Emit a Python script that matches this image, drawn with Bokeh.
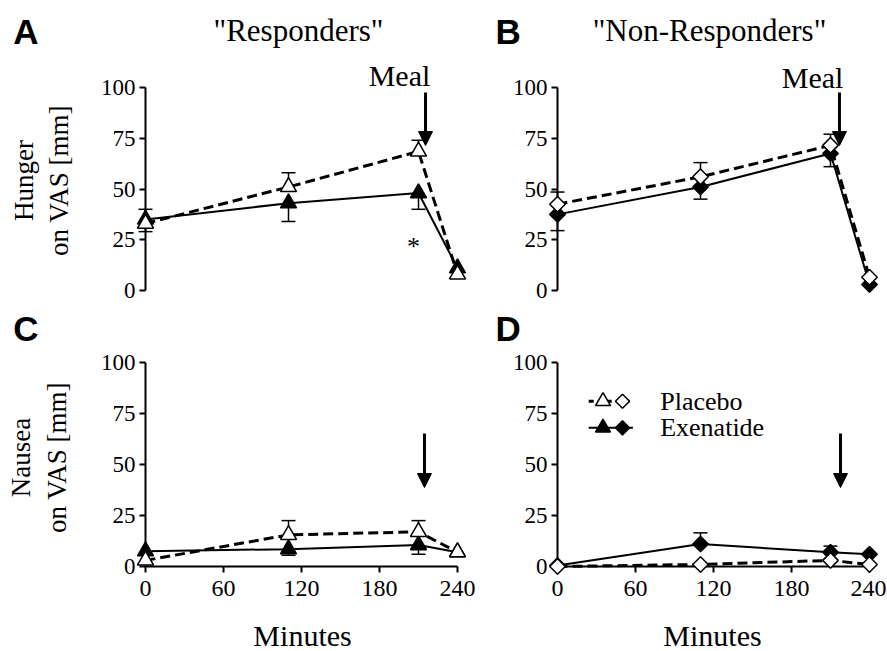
import math
from bokeh.plotting import figure
from bokeh.layouts import column, row
from bokeh.models import Arrow, NormalHead, FixedTicker, Range1d
from bokeh.core.properties import value
from bokeh.embed import file_html
from bokeh.resources import INLINE

# ---------------- data ----------------
minutes = [0, 110, 210, 240]
y_ticks = [0, 25, 50, 75, 100]
x_ticks = [0, 60, 120, 180, 240]

resp_hunger_placebo = [33, 51, 68.5, 8]
resp_hunger_placebo_sem = [7, 7, 5.5, 0]
resp_hunger_exenatide = [35, 43, 48, 11]
resp_hunger_exenatide_sem = [6, 9, 8, 0]

nonresp_hunger_placebo = [42.5, 56, 71.5, 6.5]
nonresp_hunger_placebo_sem = [6, 7, 5.5, 0]
nonresp_hunger_exenatide = [37.5, 51, 67.5, 3]
nonresp_hunger_exenatide_sem = [8, 6, 6.5, 0]

resp_nausea_placebo = [3, 15.5, 17, 7]
resp_nausea_placebo_sem = [0, 7, 5.5, 0]
resp_nausea_exenatide = [7.5, 8.5, 10.5, 7]
resp_nausea_exenatide_sem = [0, 3, 4.5, 0]

nonresp_nausea_placebo = [0, 1, 3, 1]
nonresp_nausea_placebo_sem = [0, 0, 0, 0]
nonresp_nausea_exenatide = [0.5, 11, 7, 6]
nonresp_nausea_exenatide_sem = [0, 5.5, 3, 0]

legend_labels = ["Placebo", "Exenatide"]

# ---------------- style ----------------
SERIF = "Liberation Serif"
SANS = "Liberation Sans"
BLACK = "black"
OV = "overlay"   # drawn without clipping to the frame


def make_fig(width, height, bl, br, bt, bb, has_x):
    p = figure(width=width, height=height,
               x_range=Range1d(0, 240), y_range=Range1d(0, 100),
               output_backend="svg", toolbar_location=None,
               x_axis_location="below" if has_x else None,
               min_border_left=bl, min_border_right=br,
               min_border_top=bt, min_border_bottom=bb,
               outline_line_color=None,
               background_fill_color="white", border_fill_color="white")
    p.grid.visible = False
    axes = [p.yaxis[0]] + ([p.xaxis[0]] if has_x else [])
    for ax in axes:
        ax.minor_tick_line_color = None
        ax.major_tick_in = 0
        ax.major_tick_out = 6
        ax.major_tick_line_width = 2
        ax.major_tick_line_color = BLACK
        ax.axis_line_width = 2
        ax.axis_line_color = BLACK
        ax.major_label_text_font = SERIF
        ax.major_label_text_color = BLACK
    ya = p.yaxis[0]
    ya.ticker = FixedTicker(ticks=y_ticks)
    ya.major_label_text_font_size = "23px"
    ya.major_label_standoff = 4
    if has_x:
        xa = p.xaxis[0]
        xa.ticker = FixedTicker(ticks=x_ticks)
        xa.major_label_text_font_size = "24px"
        xa.major_label_standoff = 8
    return p


def errbars(p, ys, sem, up):
    idx = [i for i, s in enumerate(sem) if s > 0]
    if not idx:
        return
    t = [minutes[i] for i in idx]
    v = [ys[i] for i in idx]
    e = [ys[i] + sem[i] if up else ys[i] - sem[i] for i in idx]
    p.segment(t, v, t, e, line_width=1.5, line_color=BLACK, level=OV)
    p.scatter(t, e, marker="dash", size=14, line_width=1.5, line_color=BLACK, level=OV)


def marker_kw(kind, filled):
    if kind == "tri":
        kw = dict(marker="triangle", size=16)
    else:
        kw = dict(marker="square", size=11, angle=math.pi / 4)
    kw.update(fill_color=BLACK if filled else "white",
              line_color=BLACK, line_width=1.5, level=OV)
    return kw


def draw_panel(p, plc, plc_sem, exe, exe_sem, kind, plc_up, exe_up):
    errbars(p, plc, plc_sem, plc_up)
    errbars(p, exe, exe_sem, exe_up)
    p.line(minutes, exe, line_width=2, line_color=BLACK, level=OV)
    p.line(minutes, plc, line_width=3, line_color=BLACK, line_dash="10 5", level=OV)
    p.scatter(minutes, exe, **marker_kw(kind, True))
    p.scatter(minutes, plc, **marker_kw(kind, False))


def txt(p, x, y, text, size, font=SERIF, style="normal", align="center", angle=0.0):
    p.text(x=[x], y=[y], text=[text], text_font=value(font),
           text_font_size=value(size), text_font_style=style,
           text_color=BLACK, text_align=align, text_baseline="middle",
           angle=angle, level=OV)


def letter(p, x, y, text):
    txt(p, x, y, text, "35px", font=SANS, style="bold", align="left")


def meal_arrow(p, x, top, tip):
    p.add_layout(Arrow(x_start=x, y_start=top, x_end=x, y_end=tip,
                       line_width=3, line_color=BLACK,
                       end=NormalHead(size=14, fill_color=BLACK,
                                      line_color=BLACK, line_width=1)))


VERT = math.pi / 2

# ---------------- panels ----------------
pA = make_fig(476, 310, 145, 19, 87, 20, False)
draw_panel(pA, resp_hunger_placebo, resp_hunger_placebo_sem,
           resp_hunger_exenatide, resp_hunger_exenatide_sem, "tri", True, False)
letter(pA, -101.8, 127.6, "A")
txt(pA, 117.7, 128.1, '"Responders"', "31px")
txt(pA, -93.8, 54.2, "Hunger", "27px", angle=VERT)
txt(pA, -66.2, 54.2, "on VAS [mm]", "27px", angle=VERT)
txt(pA, 195.4, 106, "Meal", "30px")
txt(pA, 206.2, 21.6, "*", "26px")
meal_arrow(pA, 215.4, 97.5, 71.4)

pB = make_fig(410, 310, 81, 17, 87, 20, False)
draw_panel(pB, nonresp_hunger_placebo, nonresp_hunger_placebo_sem,
           nonresp_hunger_exenatide, nonresp_hunger_exenatide_sem, "dia", True, False)
letter(pB, -47.7, 127.8, "B")
txt(pB, 116.9, 128.1, '"Non-Responders"', "31px")
txt(pB, 196.2, 105, "Meal", "30px")
meal_arrow(pB, 216.9, 97.5, 71.4)

pC = make_fig(476, 341, 145, 19, 52, 85, True)
draw_panel(pC, resp_nausea_placebo, resp_nausea_placebo_sem,
           resp_nausea_exenatide, resp_nausea_exenatide_sem, "tri", True, False)
letter(pC, -101.8, 116.7, "C")
txt(pC, -95.4, 53.4, "Nausea", "27px", angle=VERT)
txt(pC, -67.7, 53.4, "on VAS [mm]", "27px", angle=VERT)
txt(pC, 120.8, -33.8, "Minutes", "30px")
meal_arrow(pC, 214.6, 65.2, 38.7)

pD = make_fig(410, 341, 81, 17, 52, 85, True)
draw_panel(pD, nonresp_nausea_placebo, nonresp_nausea_placebo_sem,
           nonresp_nausea_exenatide, nonresp_nausea_exenatide_sem, "dia", True, True)
letter(pD, -47.7, 116.7, "D")
txt(pD, 119.2, -33.8, "Minutes", "30px")
meal_arrow(pD, 217.7, 65.2, 38.7)

# legend (drawn by hand in panel D)
for lab, yrow, filled in [(legend_labels[0], 81, False), (legend_labels[1], 68, True)]:
    if filled:
        pD.line([24, 58], [yrow, yrow], line_width=2, line_color=BLACK, level=OV)
    else:
        pD.line([24, 58], [yrow, yrow], line_width=3, line_color=BLACK,
                line_dash="5 4", level=OV)
    tk = marker_kw("tri", filled)
    tk["size"] = 15
    pD.scatter([35], [yrow], **tk)
    dk = marker_kw("dia", filled)
    dk["size"] = 10
    pD.scatter([50], [yrow], **dk)
    txt(pD, 79, yrow, lab, "26px", align="left")

layout = column(row(pA, pB), row(pC, pD))
open("out.html", "w").write(file_html(layout, INLINE))
